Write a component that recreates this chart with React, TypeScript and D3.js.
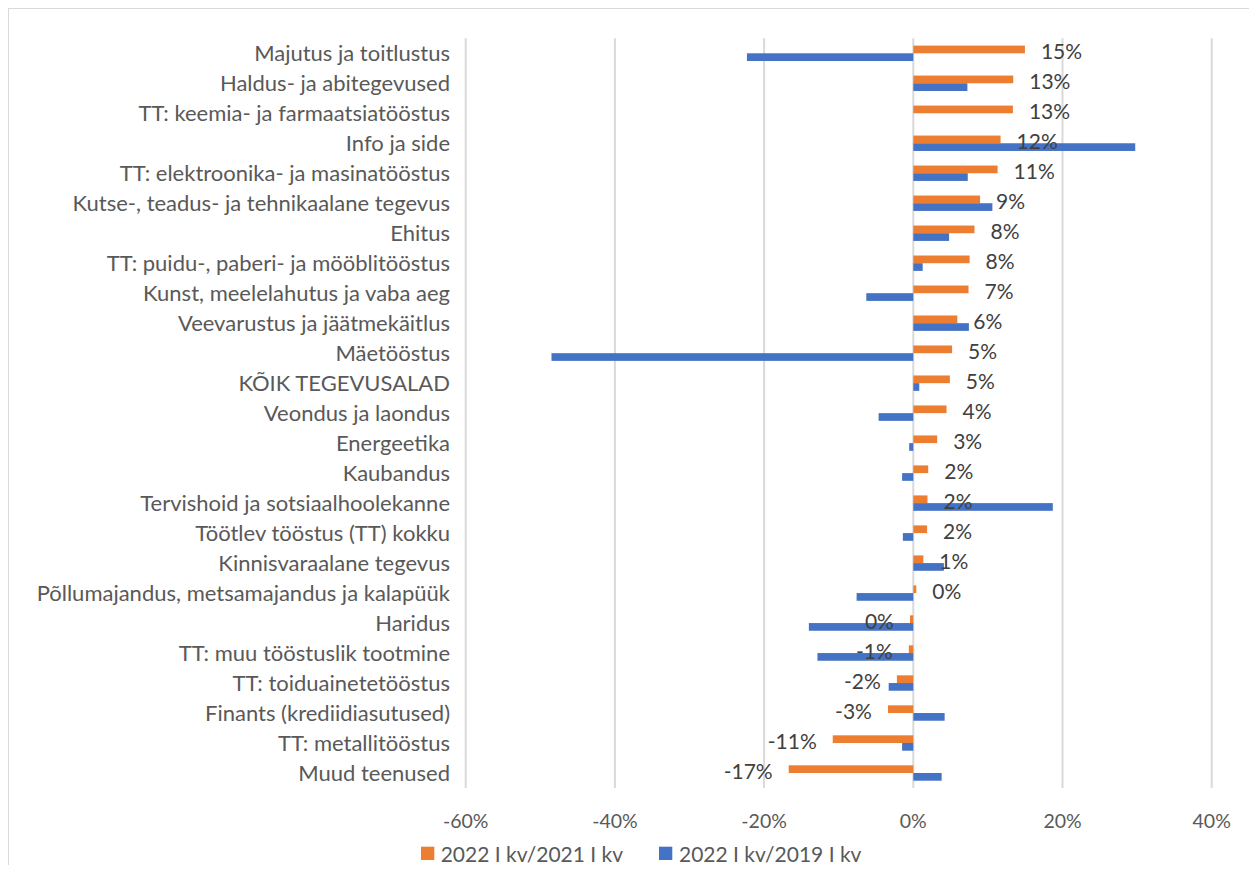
import React from "react";
import * as d3 from "d3";

const categories = [
  "Majutus ja toitlustus",
  "Haldus- ja abitegevused",
  "TT: keemia- ja farmaatsiatööstus",
  "Info ja side",
  "TT: elektroonika- ja masinatööstus",
  "Kutse-, teadus- ja tehnikaalane tegevus",
  "Ehitus",
  "TT: puidu-, paberi- ja mööblitööstus",
  "Kunst, meelelahutus ja vaba aeg",
  "Veevarustus ja jäätmekäitlus",
  "Mäetööstus",
  "KÕIK TEGEVUSALAD",
  "Veondus ja laondus",
  "Energeetika",
  "Kaubandus",
  "Tervishoid ja sotsiaalhoolekanne",
  "Töötlev tööstus (TT) kokku",
  "Kinnisvaraalane tegevus",
  "Põllumajandus, metsamajandus ja kalapüük",
  "Haridus",
  "TT: muu tööstuslik tootmine",
  "TT: toiduainetetööstus",
  "Finants (krediidiasutused)",
  "TT: metallitööstus",
  "Muud teenused",
];

// 2022 I kv / 2021 I kv (%)
const series2021 = [
  14.96, 13.4, 13.35, 11.7, 11.3, 8.95, 8.2, 7.55, 7.4, 5.9, 5.2, 4.9, 4.45,
  3.2, 2.0, 1.9, 1.85, 1.35, 0.4, -0.45, -0.6, -2.2, -3.4, -10.8, -16.7,
];

// 2022 I kv / 2019 I kv (%)
const series2019 = [
  -22.3, 7.25, 0, 29.75, 7.3, 10.6, 4.8, 1.26, -6.3, 7.45, -48.5, 0.8, -4.65,
  -0.55, -1.5, 18.7, -1.4, 4.1, -7.6, -14.0, -12.85, -3.3, 4.2, -1.5, 3.8,
];

const xTicks = [-60, -40, -20, 0, 20, 40];
const legendLabels = ["2022 I kv/2021 I kv", "2022 I kv/2019 I kv"];

const ORANGE = "#ED7D31";
const BLUE = "#4472C4";
const FONT = "Lato, 'Open Sans', sans-serif";

function fmtPct(v: number) {
  const r = Math.round(v);
  return (r === 0 ? 0 : r) + "%";
}

export default function App() {
  const W = 1249;
  const H = 857;
  const plotLeft = 457.7;
  const plotRight = 1203.7;
  const plotTop = 30.3;
  const plotBottom = 780;

  const x = d3.scaleLinear().domain([-60, 40]).range([plotLeft, plotRight]);
  const y = d3
    .scaleBand<string>()
    .domain(categories)
    .range([plotTop, plotBottom])
    .paddingInner(0)
    .paddingOuter(0);
  const barH = 7.7;
  const x0 = x(0);

  return (
    <svg
      width={W}
      height={H}
      style={{ display: "block", fontFamily: FONT }}
    >
      <rect x={0} y={0} width={W} height={H} fill="#fff" />
      <rect
        x={0.5}
        y={0.5}
        width={W + 20}
        height={H + 20}
        fill="none"
        stroke="#D9D9D9"
        strokeWidth={1}
      />
      {/* gridlines */}
      {xTicks.map((t) => (
        <line
          key={"g" + t}
          x1={x(t)}
          x2={x(t)}
          y1={plotTop}
          y2={plotBottom}
          stroke="#D9D9D9"
          strokeWidth={2}
        />
      ))}
      {/* bars */}
      {categories.map((c, i) => {
        const cy = (y(c) as number) + y.bandwidth() / 2;
        const v1 = series2021[i];
        const v2 = series2019[i];
        return (
          <g key={c}>
            <rect
              x={Math.min(x(v1), x0)}
              y={cy - barH}
              width={Math.abs(x(v1) - x0)}
              height={barH}
              fill={ORANGE}
            />
            <rect
              x={Math.min(x(v2), x0)}
              y={cy}
              width={Math.abs(x(v2) - x0)}
              height={barH}
              fill={BLUE}
            />
          </g>
        );
      })}
      {/* category labels */}
      {categories.map((c) => {
        const cy = (y(c) as number) + y.bandwidth() / 2;
        return (
          <text
            key={"l" + c}
            x={442}
            y={cy - 0.5}
            textAnchor="end"
            dominantBaseline="central"
            fontSize={22}
            fill="#595959"
          >
            {c}
          </text>
        );
      })}
      {/* data labels */}
      {categories.map((c, i) => {
        const cy = (y(c) as number) + y.bandwidth() / 2;
        const v = series2021[i];
        const pos = v >= 0;
        return (
          <text
            key={"d" + c}
            x={pos ? x(v) + 16 : x(v) - 16}
            y={cy - 2.5}
            textAnchor={pos ? "start" : "end"}
            dominantBaseline="central"
            fontSize={21}
            fill="#404040"
          >
            {fmtPct(v)}
          </text>
        );
      })}
      {/* x tick labels */}
      {xTicks.map((t) => (
        <text
          key={"t" + t}
          x={x(t)}
          y={812}
          textAnchor="middle"
          dominantBaseline="central"
          fontSize={19.5}
          fill="#595959"
        >
          {t + "%"}
        </text>
      ))}
      {/* legend */}
      <g>
        <rect x={413} y={838.7} width={13.3} height={13.3} fill={ORANGE} />
        <text
          x={432.7}
          y={845}
          dominantBaseline="central"
          fontSize={21}
          fill="#595959"
        >
          {legendLabels[0]}
        </text>
        <rect x={651} y={838.7} width={13.3} height={13.3} fill={BLUE} />
        <text
          x={671}
          y={845}
          dominantBaseline="central"
          fontSize={21}
          fill="#595959"
        >
          {legendLabels[1]}
        </text>
      </g>
    </svg>
  );
}
